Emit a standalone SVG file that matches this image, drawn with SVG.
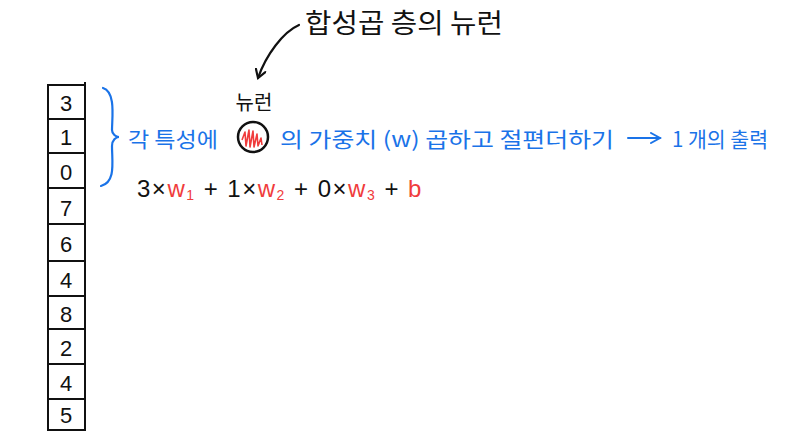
<svg xmlns="http://www.w3.org/2000/svg" width="790" height="434" viewBox="0 0 790 434">
<style>
.k{font-family:"Noto Sans CJK KR","Noto Sans",sans-serif;}
.blk{fill:#111;}
.blu{fill:#1a73e8;}
.red{fill:#f03c3c;}
.cell{fill:none;stroke:#111;stroke-width:2;}
.num{font-family:"Liberation Sans",sans-serif;font-size:22px;fill:#111;text-anchor:middle;}
</style>
<defs>
<marker id="ah" markerWidth="12" markerHeight="12" refX="9" refY="6" orient="auto" markerUnits="userSpaceOnUse">
<path d="M1,1 L9,6 L1,11" fill="none" stroke="#111" stroke-width="2.2" stroke-linecap="round"/>
</marker>
<marker id="ahb" markerWidth="12" markerHeight="12" refX="10" refY="6" orient="auto" markerUnits="userSpaceOnUse">
<path d="M1,1 L10,6 L1,11" fill="none" stroke="#1a73e8" stroke-width="2" stroke-linecap="round"/>
</marker>
</defs>
<rect width="790" height="434" fill="#fff"/>

<g id="input-column">
<rect class="cell" x="48" y="85" width="37" height="345"/>
<line class="cell" x1="85" y1="82" x2="85" y2="431"/>
<line class="cell" x1="48" y1="119" x2="85" y2="119"/>
<line class="cell" x1="48" y1="153" x2="85" y2="153"/>
<line class="cell" x1="48" y1="188" x2="85" y2="188"/>
<line class="cell" x1="48" y1="224" x2="85" y2="224"/>
<line class="cell" x1="48" y1="261" x2="85" y2="261"/>
<line class="cell" x1="48" y1="296" x2="85" y2="296"/>
<line class="cell" x1="48" y1="329" x2="85" y2="329"/>
<line class="cell" x1="48" y1="364" x2="85" y2="364"/>
<line class="cell" x1="48" y1="399" x2="85" y2="399"/>
<text class="num" x="66" y="111">3</text>
<text class="num" x="66" y="145">1</text>
<text class="num" x="66" y="180">0</text>
<text class="num" x="66" y="216">7</text>
<text class="num" x="66" y="252">6</text>
<text class="num" x="66" y="288">4</text>
<text class="num" x="66" y="322">8</text>
<text class="num" x="66" y="356">2</text>
<text class="num" x="66" y="391">4</text>
<text class="num" x="66" y="423">5</text>
</g>

<g id="title">
<text class="k blk" x="305" y="33" font-size="27" textLength="198" lengthAdjust="spacingAndGlyphs">합성곱 층의 뉴런</text>
</g>

<g id="neuron">
<text class="k blk" x="254" y="110" font-size="20" text-anchor="middle">뉴런</text>
<circle cx="253" cy="137" r="15" fill="none" stroke="#111" stroke-width="2.5"/>
<path d="M242,140 L245,132 L246,146 L249,130 L250,147 L253,131 L254,147 L257,134 L258,146 L261,138 L262,145" fill="none" stroke="#f03c3c" stroke-width="1.6" stroke-linejoin="round"/>
</g>

<g id="description">
<path d="M103,88 C116,92 112,118 112,130 C112,134 116,137 119,137 C116,137 112,140 112,146 C112,162 116,182 101,186" fill="none" stroke="#1a73e8" stroke-width="2.2" stroke-linecap="round"/>
<text class="k blu" x="128" y="147" font-size="21" textLength="90" lengthAdjust="spacingAndGlyphs">각 특성에</text>
<text class="k blu" x="280" y="147" font-size="21" textLength="334" lengthAdjust="spacingAndGlyphs">의 가중치 (w) 곱하고 절편더하기</text>
<text class="k blu" x="672" y="147" font-size="21" textLength="96" lengthAdjust="spacingAndGlyphs">1 개의 출력</text>
</g>

<g id="formula" font-family="Liberation Sans, sans-serif" font-size="24" letter-spacing="1.5">
<text x="137" y="197"><tspan class="blk">3×</tspan><tspan class="red">w</tspan><tspan class="red" font-size="14" dy="3">1</tspan><tspan class="blk" dy="-3"> + 1×</tspan><tspan class="red">w</tspan><tspan class="red" font-size="14" dy="3">2</tspan><tspan class="blk" dy="-3"> + 0×</tspan><tspan class="red">w</tspan><tspan class="red" font-size="14" dy="3">3</tspan><tspan class="blk" dy="-3"> + </tspan><tspan class="red">b</tspan></text>
</g>

<g id="connectors">
<path d="M299,25 C283,32 266,55 258,78" fill="none" stroke="#111" stroke-width="2.2" stroke-linecap="round" marker-end="url(#ah)"/>
<line x1="628" y1="138" x2="660" y2="138" stroke="#1a73e8" stroke-width="2" stroke-linecap="round" marker-end="url(#ahb)"/>
</g>
</svg>
